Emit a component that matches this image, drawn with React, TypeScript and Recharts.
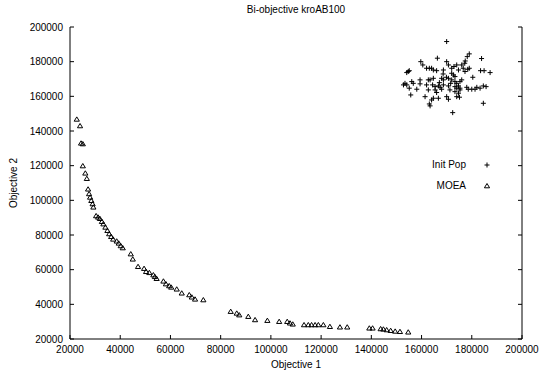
import { ScatterChart, Scatter, XAxis, YAxis, Label } from "recharts";

const xTicks = [20000, 40000, 60000, 80000, 100000, 120000, 140000, 160000, 180000, 200000];
const yTicks = [20000, 40000, 60000, 80000, 100000, 120000, 140000, 160000, 180000, 200000];

// initial population (objective 1, objective 2)
const initPop: [number, number][] = [
  [170000, 191600], [179000, 184500], [178200, 182900], [177400, 180400], [177200, 179100],
  [183900, 181800], [159700, 180000], [160500, 178100], [162000, 176200], [163100, 176200],
  [164000, 176200], [164700, 175200], [166000, 174800], [166300, 182000], [170000, 180000],
  [170700, 178100], [172000, 176200], [172900, 177200], [174000, 178100], [174700, 175200],
  [176000, 178100], [176600, 176200], [179000, 176200], [168700, 175200], [154700, 174300],
  [154100, 173700], [155100, 174800], [183500, 174800], [184900, 174800], [187300, 173700],
  [172000, 173300], [172700, 172300], [162700, 169500], [163400, 169500], [164700, 170400],
  [168000, 170400], [168700, 169500], [170700, 170400], [172000, 169500], [173300, 168500],
  [174000, 167500], [175300, 168500], [176000, 169500], [180400, 171000], [152800, 166600],
  [153400, 167500], [154100, 166600], [156100, 168500], [156700, 167500], [159400, 167200],
  [162000, 166600], [164400, 166600], [165400, 165600], [166700, 166000], [167400, 165200],
  [168700, 166600], [170700, 166000], [173300, 165600], [174000, 164700], [175300, 164700],
  [178000, 165200], [178600, 164100], [180000, 164100], [181300, 164100], [182000, 165200],
  [183300, 164700], [184600, 166000], [185700, 165600], [155100, 164700], [158100, 164100],
  [162700, 163700], [165400, 163700], [168000, 164100], [171300, 163700], [173300, 162700],
  [174700, 161800], [155700, 160800], [161400, 159800], [164000, 157900], [164700, 158900],
  [166700, 158900], [170000, 159800], [170700, 158300], [174000, 159800], [175100, 159500],
  [163400, 154500], [163100, 155600], [184600, 156000], [172400, 150600], [173300, 171400],
  [168600, 172900], [175300, 163700], [167100, 167900], [178400, 175600], [169900, 171000],
  [171600, 167500], [177300, 174300], [174700, 166000], [159400, 169500], [166000, 162200],
];

// MOEA final front
const moea: [number, number][] = [
  [22700, 146700], [24000, 142900], [24400, 132900], [25100, 132500], [25100, 119800],
  [26100, 115600], [26700, 112500], [27200, 106400], [27600, 103700], [28000, 101700],
  [28500, 99800], [29000, 97900], [29300, 96000], [30400, 91000], [31200, 90200],
  [31900, 89400], [32700, 87700], [33300, 86300], [34100, 84400], [34900, 82500],
  [35600, 80600], [36400, 79000], [37200, 77500], [38600, 76400], [39400, 75200],
  [40200, 73700], [41000, 72500], [44200, 69000], [45000, 66000], [47100, 61700],
  [49500, 60600], [50300, 58800], [51600, 58200], [53200, 56900], [53800, 55900],
  [54500, 54800], [57200, 53300], [58200, 51700], [59500, 50600], [60300, 49800],
  [62500, 48700], [64500, 46400], [67500, 45400], [68500, 44100], [69800, 42900],
  [73100, 42500], [84000, 35800], [86400, 34800], [87400, 33800], [91000, 32900],
  [93700, 31000], [98600, 30600], [103300, 30000], [106500, 30000], [107600, 29100],
  [108700, 28500], [113200, 28100], [114900, 28100], [116200, 28100], [117600, 28100],
  [118900, 28100], [120900, 28100], [123500, 27100], [127500, 26800], [130400, 26800],
  [139200, 26200], [140500, 26200], [143700, 25800], [144800, 25600], [146100, 25200],
  [147700, 24800], [149500, 24400], [151400, 24200], [154700, 23900],
];

const initData = initPop.map(([x, y]) => ({ x, y }));
const moeaData = moea.map(([x, y]) => ({ x, y }));

const Cross = (props: any) => {
  const { cx, cy } = props;
  return <path d={`M${cx - 2.5},${cy}H${cx + 2.5}M${cx},${cy - 2.5}V${cy + 2.5}`} stroke="#000" strokeWidth={1} fill="none" />;
};

const Tri = (props: any) => {
  const { cx, cy } = props;
  return <path d={`M${cx},${cy - 2.5}L${cx + 2.6},${cy + 1.8}L${cx - 2.6},${cy + 1.8}Z`} stroke="#000" strokeWidth={1} fill="none" />;
};

const tickFont = { fontSize: 10, fill: "#000" };
const blank = () => "";

export default function App() {
  return (
    <div style={{ position: "absolute", left: 0, top: 0, width: 539, height: 375, background: "#fff", fontFamily: "'Liberation Sans', Arial, sans-serif" }}>
      <div style={{ position: "absolute", left: 70, width: 452, top: 4, textAlign: "center", fontSize: 10, lineHeight: "12px", color: "#000" }}>
        Bi-objective kroAB100
      </div>
      <ScatterChart width={539} height={375} margin={{ top: 27, right: 12, bottom: 6, left: 10 }}>
        <XAxis
          xAxisId="b"
          type="number"
          dataKey="x"
          domain={[20000, 200000]}
          ticks={xTicks}
          interval={0}
          allowDataOverflow
          height={30}
          stroke="#000"
          tickSize={-4}
          tickMargin={11}
          tick={tickFont}
        >
          <Label value="Objective 1" position="insideBottom" offset={1} style={{ fontSize: 10, fill: "#000" }} />
        </XAxis>
        <XAxis
          xAxisId="t"
          orientation="top"
          type="number"
          dataKey="x"
          domain={[20000, 200000]}
          ticks={xTicks}
          interval={0}
          allowDataOverflow
          height={0}
          stroke="#000"
          tickSize={-4}
          tickFormatter={blank}
        />
        <YAxis
          yAxisId="l"
          type="number"
          dataKey="y"
          domain={[20000, 200000]}
          ticks={yTicks}
          interval={0}
          allowDataOverflow
          width={60}
          stroke="#000"
          tickSize={-4}
          tickMargin={11}
          tick={tickFont}
        >
          <Label value="Objective 2" angle={-90} position="insideLeft" offset={3} style={{ fontSize: 10, fill: "#000", textAnchor: "middle" }} />
        </YAxis>
        <YAxis
          yAxisId="r"
          orientation="right"
          type="number"
          dataKey="y"
          domain={[20000, 200000]}
          ticks={yTicks}
          interval={0}
          allowDataOverflow
          width={5}
          stroke="#000"
          tickSize={-4}
          tickFormatter={blank}
        />
        <Scatter name="Init Pop" data={initData} xAxisId="b" yAxisId="l" shape={Cross} isAnimationActive={false} />
        <Scatter name="MOEA" data={moeaData} xAxisId="b" yAxisId="l" shape={Tri} isAnimationActive={false} />
      </ScatterChart>
      <div style={{ position: "absolute", left: 380, top: 159, width: 86, textAlign: "right", fontSize: 10, lineHeight: "12px", color: "#000" }}>Init Pop</div>
      <div style={{ position: "absolute", left: 380, top: 180, width: 86, textAlign: "right", fontSize: 10, lineHeight: "12px", color: "#000" }}>MOEA</div>
      <svg style={{ position: "absolute", left: 480, top: 158 }} width={14} height={36}>
        <Cross cx={7} cy={7} />
        <Tri cx={7} cy={28} />
      </svg>
    </div>
  );
}
